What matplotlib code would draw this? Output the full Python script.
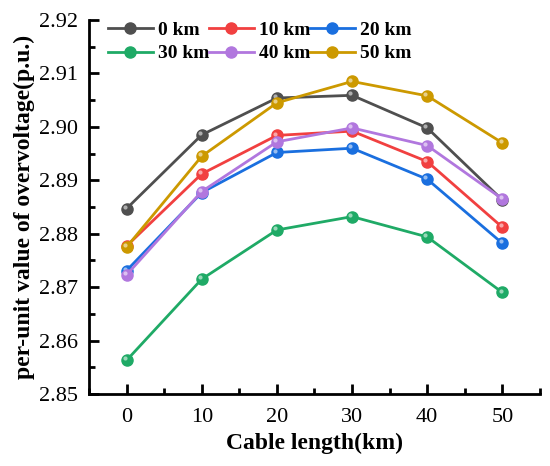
import numpy as np
import matplotlib
matplotlib.use("Agg")
from matplotlib import pyplot as plt
from matplotlib.ticker import MultipleLocator

plt.rcParams['font.family'] = ['Liberation Serif', 'DejaVu Serif']

# cable length (km) on the x axis
lengths = [0, 10, 20, 30, 40, 50]
names = ["0 km", "10 km", "20 km", "30 km", "40 km", "50 km"]

# per-unit overvoltage, one list per series
v0 = [2.8847, 2.8985, 2.9054, 2.9059, 2.8998, 2.8863]
v10 = [2.8777, 2.8912, 2.8984, 2.8992, 2.8935, 2.8812]
v20 = [2.8731, 2.8877, 2.8952, 2.8960, 2.8902, 2.8782]
v30 = [2.8563, 2.8715, 2.8807, 2.8832, 2.8794, 2.8690]
v40 = [2.8723, 2.8879, 2.8972, 2.8998, 2.8965, 2.8865]
v50 = [2.8775, 2.8945, 2.9045, 2.9085, 2.9058, 2.8970]

colors = ["#4F4F4F", "#F14040", "#1A6FDF", "#1FAA66", "#B177DE", "#CC9900"]
series = [v0, v10, v20, v30, v40, v50]

fig = plt.figure(figsize=(5.5, 4.66), dpi=100)
ax = fig.add_axes([0.1618, 0.1545, 0.8200, 0.8026])

handles = []
for vals, c, n in zip(series, colors, names):
    h, = ax.plot(lengths, vals, color=c, lw=2, marker='o', ms=8,
                 mfc=c, mec=c, label=n)
    # little highlight to fake the shaded ball markers
    ax.plot(np.array(lengths) - 0.25, np.array(vals) + 0.00035, ls='none',
            marker='o', ms=3, mfc='white', mec='none', alpha=0.55)
    handles.append(h)

ax.set_xlim(-5, 55)
ax.set_ylim(2.85, 2.92)
ax.xaxis.set_major_locator(MultipleLocator(10))
ax.xaxis.set_minor_locator(MultipleLocator(5))
ax.yaxis.set_major_locator(MultipleLocator(0.01))
ax.yaxis.set_minor_locator(MultipleLocator(0.005))
ax.yaxis.set_major_formatter(plt.FormatStrFormatter('%.2f'))

for s in ['top', 'right']:
    ax.spines[s].set_visible(False)
for s in ['left', 'bottom']:
    ax.spines[s].set_linewidth(2)

ax.tick_params(which='major', direction='in', length=7, width=2, labelsize=16)
ax.tick_params(which='minor', direction='in', length=4, width=2)
ax.tick_params(axis='x', which='major', pad=10)
ax.tick_params(axis='y', which='major', pad=8)

ax.set_xlabel("Cable length(km)", fontsize=17, fontweight='bold', labelpad=4)
ax.set_ylabel("per-unit value of overvoltage(p.u.)", fontsize=17,
              fontweight='bold', labelpad=3)

order = [0, 3, 1, 4, 2, 5]
ax.legend([handles[i] for i in order], [names[i] for i in order],
          ncol=3, loc='upper left', frameon=False, columnspacing=0.0,
          handlelength=2.3, handletextpad=0.25, borderaxespad=0.0,
          labelspacing=0.3, bbox_to_anchor=(0.025, 1.017),
          prop={'weight': 'bold', 'size': 14})

fig.savefig("out.png", dpi=100)
